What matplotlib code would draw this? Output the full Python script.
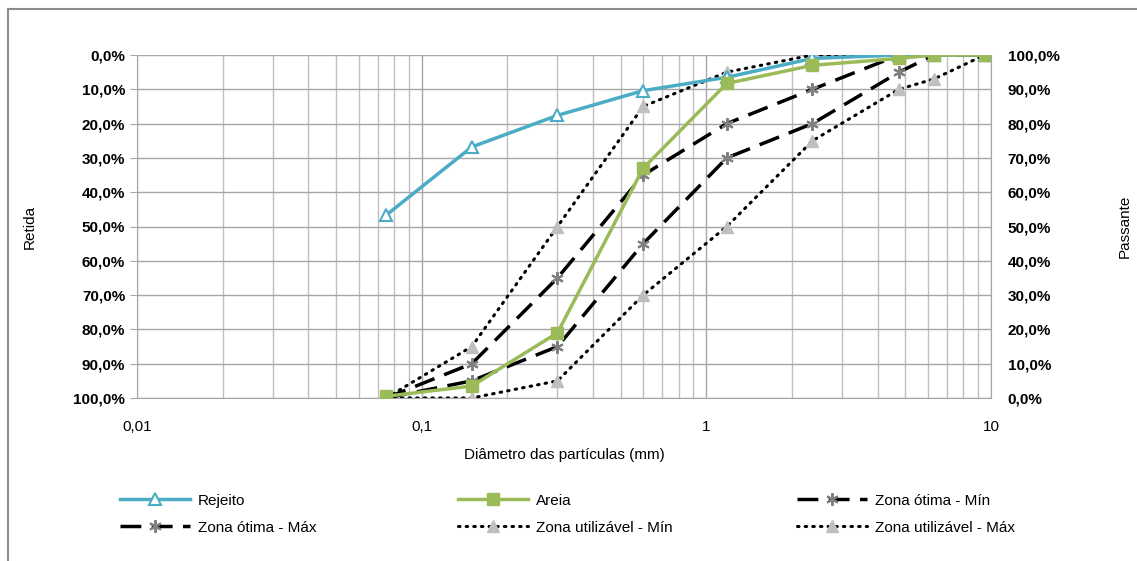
import matplotlib
matplotlib.use('Agg')
import matplotlib.pyplot as plt
from matplotlib.ticker import FixedLocator, FuncFormatter, LogLocator, NullFormatter
from matplotlib.lines import Line2D

plt.rcParams['font.family'] = ['Liberation Sans', 'DejaVu Sans']

# sieve openings (mm)
diam = [0.075, 0.15, 0.3, 0.6, 1.18, 2.36, 4.75, 6.3, 9.5]

# cumulative retained (%)
rejeito = [46.7, 26.8, 17.6, 10.4, 6.5, 1.0, 0.0, 0.0, 0.0]
areia = [99.5, 96.5, 81.0, 33.0, 8.3, 3.0, 1.0, 0.0, 0.0]
otima_min = [100, 90, 65, 35, 20, 10, 0, 0, 0]
otima_max = [100, 95, 85, 55, 30, 20, 5, 0, 0]
util_min = [100, 85, 50, 15, 5, 0, 0, 0, 0]
util_max = [100, 100, 95, 70, 50, 25, 10, 7, 0]

xticks = [0.01, 0.1, 1, 10]
xtick_labels = ['0,01', '0,1', '1', '10']

W, H = 1137, 561
fig = plt.figure(figsize=(W / 100, H / 100), dpi=100)
ax = fig.add_axes([137 / W, 1 - 398 / H, (991 - 137) / W, (398 - 55) / H])

star = (6, 2, 0)
pct = FuncFormatter(lambda v, p: ('%.1f%%' % v).replace('.', ','))

ax.plot(diam, rejeito, color='#4BACC6', lw=2.5, marker='^', ms=8,
        mfc='white', mec='#4BACC6', mew=1.5, label='Rejeito', zorder=5)
ax.plot(diam, areia, color='#9BBB59', lw=2.5, marker='s', ms=8,
        mfc='#9BBB59', mec='#9BBB59', label='Areia', zorder=5)
ax.plot(diam, otima_min, color='black', lw=2.5, ls=(0, (6, 3)), marker=star,
        ms=9, mec='#7F7F7F', mew=1.5, label='Zona ótima - Mín', zorder=4)
ax.plot(diam, otima_max, color='black', lw=2.5, ls=(0, (6, 3)), marker=star,
        ms=9, mec='#7F7F7F', mew=1.5, label='Zona ótima - Máx', zorder=4)
ax.plot(diam, util_min, color='black', lw=2.2, ls=(0, (0.5, 2.0)),
        dash_capstyle='round', marker='^', ms=8, mfc='#BFBFBF', mec='#BFBFBF',
        label='Zona utilizável - Mín', zorder=3)
ax.plot(diam, util_max, color='black', lw=2.2, ls=(0, (0.5, 2.0)),
        dash_capstyle='round', marker='^', ms=8, mfc='#BFBFBF', mec='#BFBFBF',
        label='Zona utilizável - Máx', zorder=3)

ax.set_xscale('log')
ax.set_xlim(0.01, 10)
ax.set_ylim(100, 0)
ax.xaxis.set_major_locator(FixedLocator(xticks))
ax.set_xticklabels(xtick_labels, fontsize=11)
ax.xaxis.set_minor_locator(LogLocator(base=10, subs=range(2, 10)))
ax.xaxis.set_minor_formatter(NullFormatter())
ax.set_yticks(range(0, 101, 10))
ax.yaxis.set_major_formatter(pct)
for t in ax.get_yticklabels():
    t.set_fontweight('bold')
    t.set_fontsize(11)
ax.grid(True, which='major', color='#A6A6A6', lw=1)
ax.grid(True, which='minor', axis='x', color='#BFBFBF', lw=1)
ax.tick_params(axis='x', which='both', length=0, pad=16)
ax.tick_params(axis='y', length=5, color='#A6A6A6', direction='out')
for s in ['top', 'right']:
    ax.spines[s].set_visible(False)
ax.spines['left'].set_color('#A6A6A6')
ax.spines['bottom'].set_color('#A6A6A6')
ax.set_axisbelow(True)
ax.set_ylabel('Retida', fontsize=11, labelpad=26)
ax.set_xlabel('Diâmetro das partículas (mm)', fontsize=11, labelpad=10)

ax2 = ax.twinx()
ax2.set_ylim(0, 100)
ax2.set_yticks(range(0, 101, 10))
ax2.yaxis.set_major_formatter(pct)
for t in ax2.get_yticklabels():
    t.set_fontweight('bold')
    t.set_fontsize(11)
ax2.tick_params(axis='y', length=0, pad=12)
for s in ['top', 'left', 'bottom']:
    ax2.spines[s].set_visible(False)
ax2.spines['right'].set_color('#A6A6A6')
ax2.set_ylabel('Passante', fontsize=11, labelpad=42)

# legend: three columns of two entries each
handles, labels = ax.get_legend_handles_labels()
col_x = [112, 450, 789]
for c in range(3):
    idx = [[0, 3], [1, 4], [2, 5]][c]
    fig.legend([handles[i] for i in idx], [labels[i] for i in idx],
               loc='upper left', bbox_to_anchor=(col_x[c] / W, 1 - 486 / H),
               frameon=False, fontsize=11, handlelength=4.6,
               labelspacing=0.85, handletextpad=0.5, borderpad=0)

# chart frame
fig.add_artist(Line2D([8 / W, 8 / W], [0, 1 - 9 / H], color='#8C8C8C', lw=1.5))
fig.add_artist(Line2D([8 / W, 1], [1 - 9 / H, 1 - 9 / H], color='#8C8C8C', lw=1.5))

fig.savefig('out.png', dpi=100)
